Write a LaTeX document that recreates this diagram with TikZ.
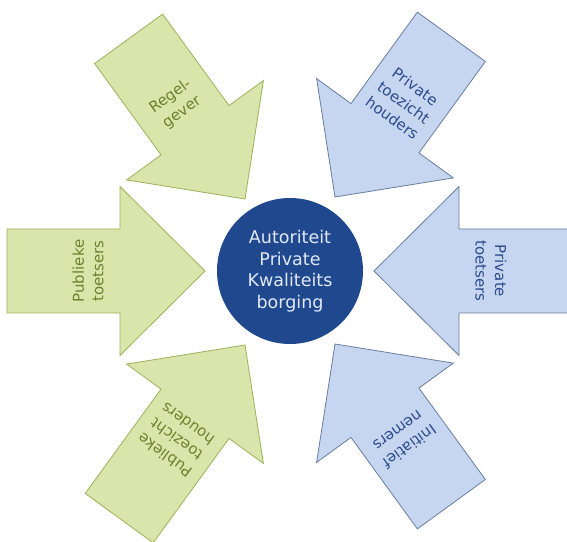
\documentclass[tikz,border=0pt]{standalone}
\usepackage{fontspec}
\setmainfont{DejaVu Sans}
\definecolor{groenvul}{RGB}{217,229,170}
\definecolor{groenrand}{RGB}{155,178,90}
\definecolor{groentekst}{RGB}{110,130,45}
\definecolor{blauwvul}{RGB}{198,214,240}
\definecolor{blauwrand}{RGB}{105,125,160}
\definecolor{blauwtekst}{RGB}{45,75,140}
\definecolor{kern}{RGB}{31,72,143}
\tikzset{
  groen/.style={fill=groenvul, draw=groenrand, line width=0.8pt},
  blauw/.style={fill=blauwvul, draw=blauwrand, line width=0.8pt},
  groenlabel/.style={text=groentekst},
  blauwlabel/.style={text=blauwtekst},
  pijltekst/.style={align=center, font=\fontsize{15}{19.5}\selectfont}
}
\begin{document}
\begin{tikzpicture}[x=1pt,y=1pt]
\useasboundingbox (0,0) rectangle (567,541);

\node[circle, fill=kern, minimum size=146pt, inner sep=0pt, align=center,
  text={rgb,255:red,225;green,233;blue,247}, font=\fontsize{17.5}{21.5}\selectfont]
  (apkb) at (290,270) {Autoriteit\\Private\\Kwaliteits\\borging};

% pijlen: punt, richting, lengte, kleur, tekst
\foreach \px/\py/\hoek/\lengte/\kleur/\tekst [count=\i] in {
  245/342/-54/198/groen/{Regel-\\gever},
  335/344/-126/198/blauw/{Private\\toezicht\\houders},
  205/270/0/198/groen/{Publieke\\toetsers},
  374/270/180/198/blauw/{Private\\toetsers},
  245/196/54/214/groen/{Publieke\\toezicht\\houders},
  335/197/126/198/blauw/{Initiatief\\nemers}}
{
  \begin{scope}[shift={(\px,\py)}, rotate=\hoek]
    \draw[\kleur, line join=miter] (0,0) -- (-85,84.5) -- (-85,42) -- (-\lengte,42)
      -- (-\lengte,-42) -- (-85,-42) -- (-85,-84.5) -- cycle;
    \node[pijltekst, \kleur label, rotate=\hoek+90] (pijl\i) at (-117,0) {\tekst};
  \end{scope}
}
\end{tikzpicture}
\end{document}
